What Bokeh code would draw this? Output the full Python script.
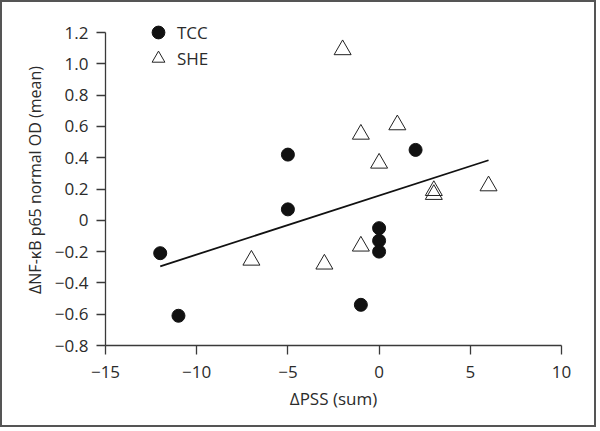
from bokeh.plotting import figure
from bokeh.models import Range1d, FixedTicker, Legend, LegendItem, LinearAxis
from bokeh.embed import file_html
from bokeh.resources import INLINE

# Data
tcc_x = [-12, -11, -5, -5, 0, 0, 0, -1, 2]
tcc_y = [-0.21, -0.61, 0.42, 0.07, -0.05, -0.13, -0.20, -0.54, 0.45]
she_x = [-2, -1, 1, 0, 3, 3, 6, -1, -7, -3]
she_y = [1.09, 0.55, 0.61, 0.365, 0.19, 0.165, 0.22, -0.165, -0.255, -0.28]
fit_x = [-12, 6]
fit_y = [-0.294, 0.384]

x_ticks = [-15, -10, -5, 0, 5, 10]
x_labels = ["\u221215", "\u221210", "\u22125", "0", "5", "10"]
y_ticks = [-0.8, -0.6, -0.4, -0.2, 0, 0.2, 0.4, 0.6, 0.8, 1.0, 1.2]
y_labels = ["\u22120.8", "\u22120.6", "\u22120.4", "\u22120.2", "0", "0.2", "0.4",
            "0.6", "0.8", "1.0", "1.2"]
x_title = "\u0394PSS (sum)"
y_title = "\u0394NF-\u03baB p65 normal OD (mean)"

FONT = "Open Sans"
TXT = "#2b2b2b"
FS = "17px"

y_top = 1.2 + 18 / 156.0   # a little room above the axis for the legend

p = figure(width=596, height=427, output_backend="svg", toolbar_location=None,
           x_range=Range1d(-15, 10), y_range=Range1d(-0.8, y_top),
           min_border_left=103, min_border_right=37, min_border_top=12,
           min_border_bottom=84)
p.styles = {"border": "2px solid #555555"}
p.outline_line_color = None
p.grid.visible = False

for ax in (p.xaxis[0], p.yaxis[0]):
    ax.axis_line_color = "#3a3a3a"
    ax.axis_line_width = 1.3
    ax.major_tick_line_color = "#3a3a3a"
    ax.major_tick_line_width = 1.3
    ax.major_tick_out = 9
    ax.major_tick_in = 0
    ax.minor_tick_line_color = None
    ax.major_label_text_font = FONT
    ax.major_label_text_font_size = FS
    ax.major_label_text_color = TXT
    ax.axis_label_text_font = FONT
    ax.axis_label_text_font_size = FS
    ax.axis_label_text_font_style = "normal"
    ax.axis_label_text_color = TXT

p.xaxis.bounds = (-15, 10)
p.yaxis.bounds = (-0.8, 1.2)
p.xaxis.ticker = FixedTicker(ticks=x_ticks)
p.xaxis.major_label_overrides = dict(zip(x_ticks, x_labels))
p.yaxis.ticker = FixedTicker(ticks=y_ticks)
p.yaxis.major_label_overrides = dict(zip(y_ticks, y_labels))
p.xaxis.axis_label = x_title
p.xaxis.major_label_standoff = 11
p.yaxis.major_label_standoff = 8
p.xaxis.axis_label_standoff = 6

# y-axis title on a bare extra axis (the title sits a bit above the axis centre)
title_axis = LinearAxis(ticker=FixedTicker(ticks=[]), bounds=(-0.5, 1.1),
                        axis_line_color=None, major_tick_line_color=None,
                        minor_tick_line_color=None, axis_label=y_title,
                        axis_label_text_font=FONT, axis_label_text_font_size="16px",
                        axis_label_text_font_style="normal",
                        axis_label_text_color=TXT, axis_label_standoff=6)
p.add_layout(title_axis, "left")

p.line(fit_x, fit_y, line_color="#111111", line_width=1.8)
r_tcc = p.scatter(tcc_x, tcc_y, marker="circle", size=13, fill_color="#111111",
                  line_color="#111111")
r_she = p.scatter(she_x, she_y, marker="triangle", size=17, fill_alpha=0,
                  line_color="#222222", line_width=1)

common = dict(orientation="vertical", glyph_width=32, glyph_height=32,
              label_standoff=3, padding=0, margin=0, border_line_color=None,
              background_fill_alpha=0, label_text_font=FONT,
              label_text_font_size=FS, label_text_color=TXT)
leg1 = Legend(items=[LegendItem(label="TCC", renderers=[r_tcc])],
              location=(37, 297), **common)
leg2 = Legend(items=[LegendItem(label="SHE", renderers=[r_she])],
              location=(37, 271), **common)
p.add_layout(leg1, "center")
p.add_layout(leg2, "center")

open("out.html", "w").write(file_html(p, INLINE))
